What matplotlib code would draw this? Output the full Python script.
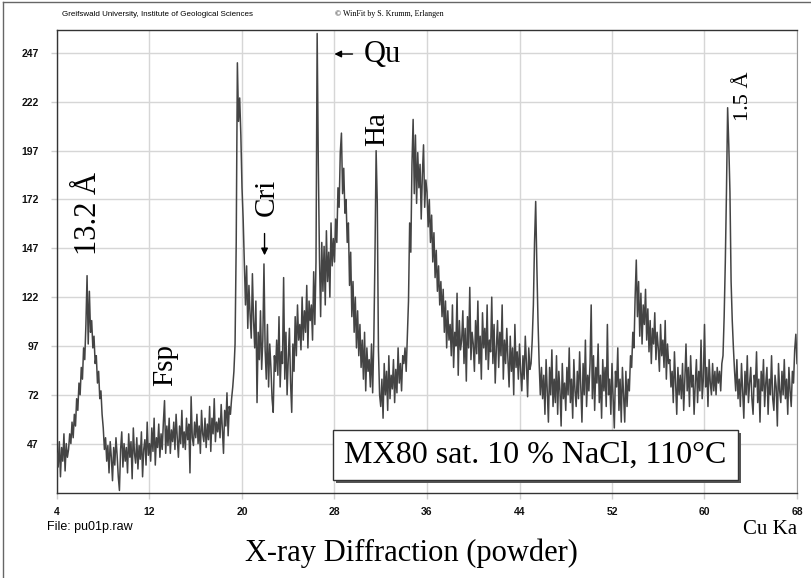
import matplotlib
matplotlib.use("Agg")
import matplotlib.pyplot as plt
from matplotlib.lines import Line2D
from matplotlib.patches import Rectangle
import numpy as np

# XRD trace, counts at 0.1 deg steps (one row per degree)
counts = [
    42, 35, 48, 30, 45, 38, 52, 33, 47, 40,            # 4
    44, 52, 47, 58, 50, 62, 56, 70, 64, 78,            # 5
    72, 86, 80, 96, 90, 108, 133, 98, 125, 104,        # 6
    110, 96, 102, 88, 92, 78, 84, 70, 74, 62,          # 7
    55, 44, 50, 38, 46, 32, 48, 40, 28, 45,            # 8
    36, 50, 41, 30, 23, 44, 53, 35, 47, 38,            # 9
    45, 32, 52, 40, 48, 29, 55, 42, 37, 50,            # 10
    34, 46, 39, 53, 30, 44, 49, 36, 58, 41,            # 11
    47, 38, 55, 43, 60, 36, 50, 45, 57, 40,            # 12
    52, 44, 58, 69, 42, 56, 46, 60, 42, 54,            # 13
    48, 58, 44, 62, 50, 40, 56, 47, 64, 45,            # 14
    53, 44, 60, 49, 57, 32, 71, 50, 46, 58,            # 15
    50, 62, 47, 56, 42, 64, 52, 48, 60, 45,            # 16
    57, 49, 66, 43, 60, 52, 70, 48, 58, 53,            # 17
    60, 50, 67, 55, 42, 64, 56, 73, 51, 66,            # 18
    62, 70, 76, 84, 98, 150, 242, 212, 224, 205,       # 19
    178, 162, 140, 118, 138, 106, 128, 113, 101, 134,  # 20
    110, 96, 120, 68, 104, 90, 115, 85, 100, 139,      # 21
    95, 80, 108, 76, 98, 86, 70, 63, 92, 84,           # 22
    100, 82, 112, 76, 94, 88, 132, 80, 104, 72,        # 23
    90, 106, 78, 63, 98, 84, 112, 92, 118, 100,        # 24
    108, 95, 122, 100, 115, 104, 128, 96, 120, 110,    # 25
    118, 100, 135, 108, 140, 257, 190, 142, 112, 150,  # 26
    125, 148, 118, 156, 130, 145, 122, 160, 138, 152,  # 27
    140, 162, 150, 178, 168, 196, 206, 175, 188, 165,  # 28
    172, 150, 160, 128, 145, 112, 130, 104, 122, 96,   # 29
    115, 92, 108, 86, 100, 80, 104, 74, 96, 84,        # 30
    90, 76, 98, 73, 100, 143, 197, 170, 95, 72,        # 31
    66, 80, 60, 88, 72, 84, 64, 92, 70, 82,            # 32
    75, 90, 68, 85, 73, 96, 78, 88, 74, 92,            # 33
    88, 96, 84, 102, 120, 160, 145, 190, 213, 175,     # 34
    205, 170, 196, 178, 190, 162, 185, 200, 168, 182,  # 35
    176, 158, 172, 150, 164, 140, 155, 132, 146, 125,  # 36
    138, 118, 130, 112, 126, 104, 120, 96, 115, 100,   # 37
    108, 92, 118, 86, 104, 97, 124, 82, 110, 95,       # 38
    100, 115, 88, 106, 79, 112, 96, 127, 90, 104,      # 39
    98, 84, 110, 93, 120, 88, 102, 80, 114, 96,        # 40
    106, 90, 118, 85, 100, 94, 122, 88, 108, 78,       # 41
    96, 110, 86, 104, 92, 118, 80, 100, 88, 106,       # 42
    90, 76, 102, 84, 96, 72, 108, 86, 94, 80,          # 43
    98, 84, 74, 92, 80, 102, 88, 71, 96, 85,           # 44
    88, 100, 118, 150, 171, 138, 110, 88, 72, 86,      # 45
    70, 82, 62, 90, 74, 58, 86, 72, 95, 66,            # 46
    80, 68, 92, 62, 84, 74, 56, 88, 70, 78,            # 47
    64, 86, 72, 96, 68, 80, 60, 90, 74, 66,            # 48
    84, 70, 94, 76, 58, 88, 72, 100, 66, 82,           # 49
    74, 88, 118, 70, 92, 64, 86, 78, 98, 68,           # 50
    82, 60, 90, 74, 86, 66, 108, 72, 80, 62,           # 51
    88, 70, 55, 84, 76, 96, 64, 80, 58, 86,            # 52
    72, 58, 84, 66, 80, 74, 92, 86, 104, 96,           # 53
    122, 141, 112, 130, 102, 124, 98, 118, 108, 126,   # 54
    100, 116, 94, 110, 88, 106, 98, 114, 90, 104,      # 55
    96, 84, 108, 92, 100, 86, 110, 80, 98, 88,         # 56
    90, 76, 84, 68, 94, 78, 62, 86, 72, 82,            # 57
    70, 88, 64, 80, 98, 74, 86, 66, 92, 76,            # 58
    82, 62, 78, 90, 68, 84, 74, 100, 70, 80,           # 59
    108, 76, 86, 66, 90, 78, 72, 88, 74, 84,           # 60
    72, 86, 78, 84, 74, 88, 92, 112, 140, 176,         # 61
    219, 200, 176, 130, 110, 96, 84, 74, 90, 70,       # 62
    80, 66, 88, 74, 60, 84, 72, 92, 68, 78,            # 63
    86, 70, 62, 82, 76, 94, 68, 80, 58, 84,            # 64
    74, 90, 66, 78, 86, 62, 80, 72, 92, 70,            # 65
    64, 82, 76, 56, 88, 74, 68, 84, 72, 90,            # 66
    70, 80, 62, 86, 74, 66, 84, 78, 95, 103,           # 67
    88,                                                # 68
]
two_theta = np.round(np.linspace(4, 68, len(counts)), 1)

x_ticks = [4, 12, 20, 28, 36, 44, 52, 60, 68]
y_ticks = [47, 72, 97, 122, 147, 172, 197, 222, 247]

SERIF = "Liberation Serif"
SANS = "Liberation Sans"

W, H = 812, 578
fig = plt.figure(figsize=(W / 100, H / 100), dpi=100)
fig.patch.set_facecolor("white")

def fx(px):
    return px / W

def fy(py):
    return 1 - py / H

ax = fig.add_axes([fx(57), fy(493), fx(797) - fx(57), fy(30) - fy(493)])
ax.plot(two_theta, counts, color="#444444", lw=1.1, zorder=3)

ax.set_xlim(4, 68)
ax.set_ylim(21.7, 258.8)
ax.set_xticks(x_ticks)
ax.set_yticks(y_ticks)
ax.grid(True, color="#d6d6d6", lw=1.0, zorder=0)
ax.tick_params(axis="both", length=4, width=1, color="#cfcfcf", direction="out")
ax.tick_params(axis="y", pad=9)
ax.tick_params(axis="x", pad=6)
for lab in ax.get_xticklabels() + ax.get_yticklabels():
    lab.set_fontfamily(SANS)
    lab.set_fontsize(7.5)
    lab.set_fontweight("bold")
    lab.set_color("#111111")
for side in ["left", "bottom", "top"]:
    ax.spines[side].set_color("#333333")
    ax.spines[side].set_linewidth(1.0)
ax.spines["right"].set_color("#999999")

# peak labels
ax.text(6.7, 165, "13.2 Å", rotation=90, ha="center", va="center",
        family=SERIF, fontsize=22)
ax.text(13.4, 87, "Fsp", rotation=90, ha="center", va="center",
        family=SERIF, fontsize=21)
ax.text(22.1, 173, "Cri", rotation=90, ha="center", va="center",
        family=SERIF, fontsize=21)
ax.annotate("", xy=(21.95, 142), xytext=(21.95, 156),
            arrowprops=dict(arrowstyle="-|>", color="black", lw=1.0,
                            mutation_scale=10))
ax.text(32.1, 246, "Qu", ha="center", va="center", family=SERIF, fontsize=22)
ax.annotate("", xy=(27.75, 246.5), xytext=(29.8, 246.5),
            arrowprops=dict(arrowstyle="-|>", color="black", lw=1.0,
                            mutation_scale=10))
ax.text(31.7, 208, "Ha", rotation=90, ha="center", va="center",
        family=SERIF, fontsize=21)
ax.text(63.4, 225, "1.5 Å", rotation=90, ha="center", va="center",
        family=SERIF, fontsize=16)

# sample box with shadow
bx0, bx1 = (333 - 57) / 740, (738 - 57) / 740
by0, by1 = (493 - 480) / 463, (493 - 430) / 463
ax.add_patch(Rectangle((bx0 + 3 / 740, by0 - 3 / 463), bx1 - bx0, by1 - by0,
                       transform=ax.transAxes, facecolor="#555555",
                       edgecolor="none", zorder=5))
ax.add_patch(Rectangle((bx0, by0), bx1 - bx0, by1 - by0,
                       transform=ax.transAxes, facecolor="white",
                       edgecolor="#333333", lw=1.0, zorder=6))
ax.text((bx0 + bx1) / 2, (by0 + by1) / 2, "MX80 sat. 10 % NaCl, 110°C",
        transform=ax.transAxes, ha="center", va="center",
        family=SERIF, fontsize=23, zorder=7)

# page texts
fig.text(fx(62), fy(14), "Greifswald University, Institute of Geological Sciences",
         ha="left", va="center", family=SANS, fontsize=5.8)
fig.text(fx(335), fy(14), "© WinFit by S. Krumm, Erlangen",
         ha="left", va="center", family=SERIF, fontsize=5.8)
fig.text(fx(47), fy(527), "File: pu01p.raw", ha="left", va="center",
         family=SANS, fontsize=9)
fig.text(fx(797), fy(530), "Cu Ka", ha="right", va="center",
         family=SERIF, fontsize=15)
fig.text(fx(411), fy(553), "X-ray Diffraction (powder)", ha="center",
         va="center", family=SERIF, fontsize=22)

# outer frame (top and left edge of the page)
fig.add_artist(Line2D([fx(3), 1], [fy(1.5), fy(1.5)], transform=fig.transFigure,
                      color="#666666", lw=1))
fig.add_artist(Line2D([fx(3), fx(3)], [0, fy(1.5)], transform=fig.transFigure,
                      color="#666666", lw=1))

fig.savefig("out.png", dpi=100)
